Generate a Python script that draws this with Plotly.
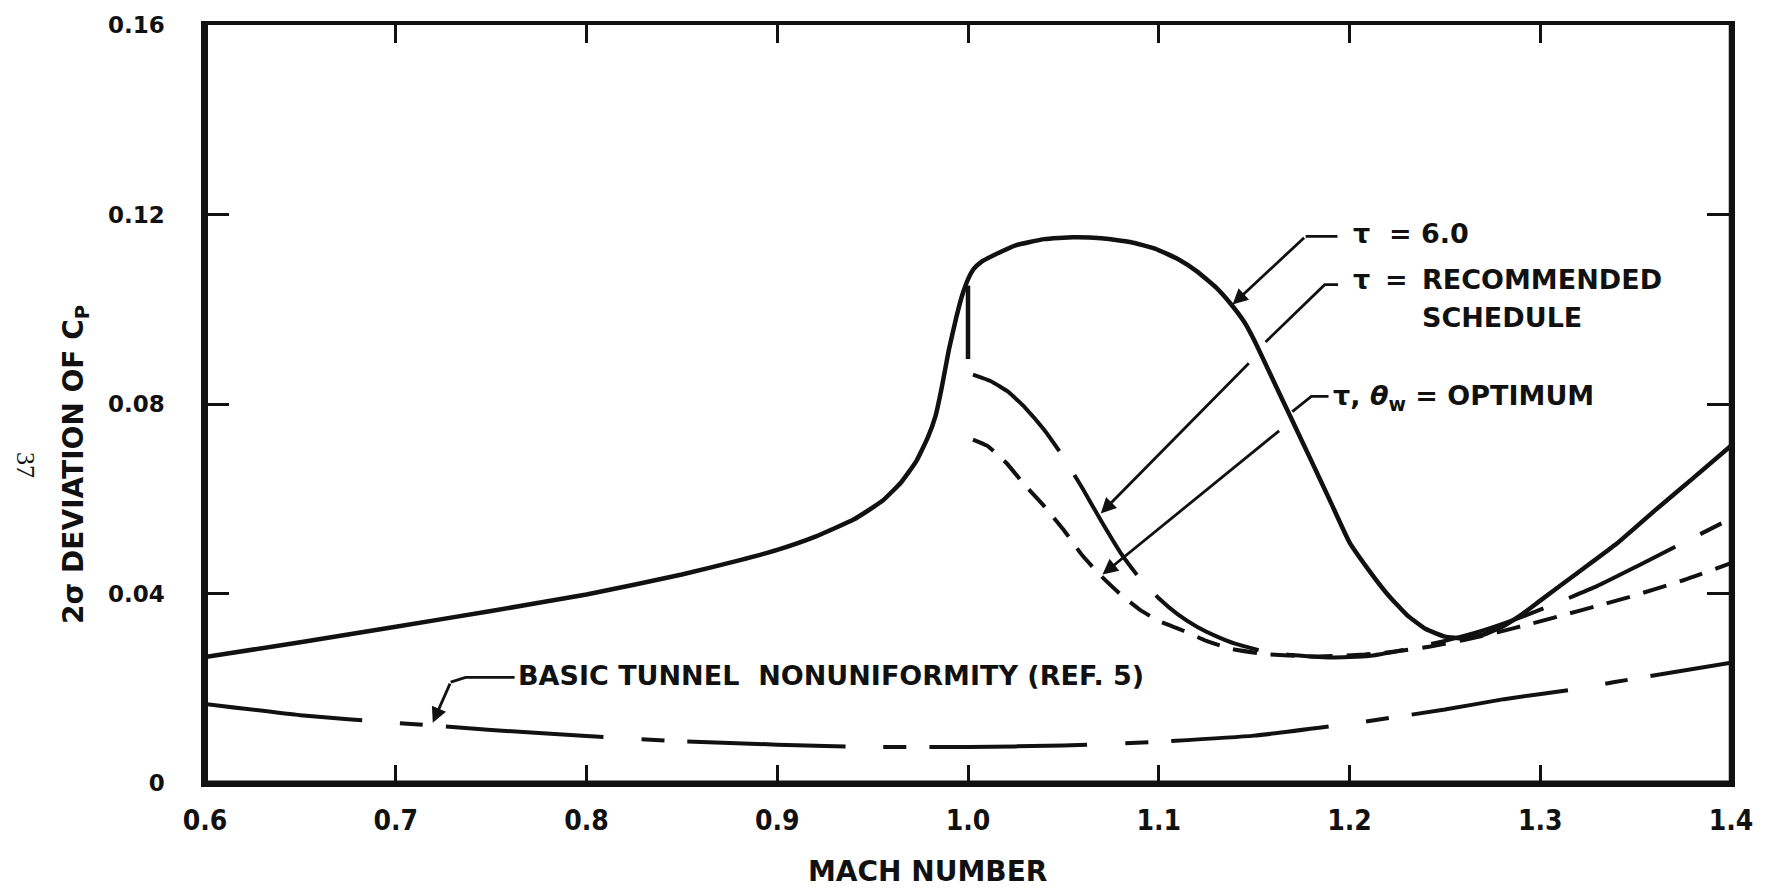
import plotly.graph_objects as go

# ---- data -------------------------------------------------------------
# tau = 6.0 (solid)
tau6_mach = [0.60, 0.65, 0.70, 0.75, 0.80, 0.85, 0.88, 0.90, 0.92, 0.94, 0.955, 0.965,
             0.973, 0.979, 0.983, 0.986, 0.990, 0.994, 0.997, 1.000, 1.003, 1.007, 1.014,
             1.025, 1.040, 1.055, 1.070, 1.085, 1.098, 1.110, 1.120, 1.130, 1.138, 1.145,
             1.150, 1.160, 1.170, 1.180, 1.190, 1.200, 1.210, 1.220, 1.230, 1.240, 1.250,
             1.260, 1.270, 1.280, 1.290, 1.300, 1.320, 1.340, 1.360, 1.380, 1.400]
tau6_cp = [0.0266, 0.0297, 0.0330, 0.0363, 0.0398, 0.0440, 0.0470, 0.0492, 0.0520, 0.0556,
           0.0595, 0.0635, 0.0680, 0.0730, 0.0775, 0.0830, 0.0915, 0.0985, 0.1030, 0.1063,
           0.1085, 0.1100, 0.1115, 0.1135, 0.1148, 0.1152, 0.1150, 0.1142, 0.1128, 0.1106,
           0.1080, 0.1046, 0.1010, 0.0972, 0.0935, 0.0850, 0.0765, 0.0680, 0.0594, 0.0508,
           0.0450, 0.0398, 0.0355, 0.0325, 0.0309, 0.0305, 0.0313, 0.0330, 0.0355, 0.0385,
           0.0445, 0.0505, 0.0575, 0.0643, 0.0712]

# drop of the tau = 6.0 curve at M = 1.0
drop_mach = [1.0, 1.0]
drop_cp = [0.1050, 0.0895]

# tau = recommended schedule (long dash)
rec_mach = [1.0026, 1.012, 1.021, 1.030, 1.040, 1.050, 1.060, 1.070, 1.080, 1.090, 1.100,
            1.110, 1.120, 1.130, 1.140, 1.155, 1.170, 1.190, 1.210, 1.230, 1.250, 1.270,
            1.290, 1.310, 1.330, 1.350, 1.370, 1.395]
rec_cp = [0.0862, 0.0848, 0.0826, 0.0792, 0.0745, 0.0688, 0.0622, 0.0552, 0.0486, 0.0432,
          0.0390, 0.0356, 0.0330, 0.0310, 0.0294, 0.0278, 0.0270, 0.0265, 0.0268, 0.0282,
          0.0300, 0.0322, 0.0350, 0.0382, 0.0416, 0.0456, 0.0497, 0.0548]

# tau, theta_w = optimum (short dash)
opt_mach = [1.0026, 1.010, 1.020, 1.030, 1.040, 1.050, 1.060, 1.070, 1.080, 1.090, 1.100,
            1.112, 1.125, 1.138, 1.156, 1.180, 1.208, 1.225, 1.2424, 1.260, 1.2775, 1.295,
            1.3126, 1.330, 1.347, 1.375, 1.400]
opt_cp = [0.0725, 0.0712, 0.0676, 0.0628, 0.0584, 0.0535, 0.0480, 0.0436, 0.0398, 0.0366,
          0.0342, 0.0323, 0.0300, 0.0283, 0.0272, 0.0267, 0.0271, 0.0278, 0.0288, 0.0302,
          0.0318, 0.0336, 0.0355, 0.0374, 0.0393, 0.0428, 0.0464]

# basic tunnel nonuniformity (ref. 5)
basic_mach = [0.60, 0.65, 0.70, 0.75, 0.80, 0.85, 0.90, 0.95, 1.00, 1.05, 1.10, 1.15, 1.20,
              1.25, 1.281, 1.318, 1.339, 1.40]
basic_cp = [0.0167, 0.0143, 0.0127, 0.0112, 0.0099, 0.0088, 0.0081, 0.0076, 0.0076, 0.0079,
            0.0087, 0.0100, 0.0125, 0.0155, 0.0177, 0.0198, 0.0213, 0.0254]

x_ticks = [0.6, 0.7, 0.8, 0.9, 1.0, 1.1, 1.2, 1.3, 1.4]
x_labels = ["0.6", "0.7", "0.8", "0.9", "1.0", "1.1", "1.2", "1.3", "1.4"]
y_ticks = [0, 0.04, 0.08, 0.12, 0.16]
y_labels = ["0", "0.04", "0.08", "0.12", "0.16"]

# ---- figure -----------------------------------------------------------
BOLD = "DejaVu Sans"
NARROW = "Liberation Sans Narrow, Arial Narrow, DejaVu Sans Condensed, sans-serif"
INK = "#111111"

fig = go.Figure()

def curve(x, y, width, dash):
    fig.add_trace(go.Scatter(x=x, y=y, mode="lines", showlegend=False, hoverinfo="skip",
                             line=dict(color=INK, width=width, dash=dash,
                                       shape="spline", smoothing=0.4)))

curve(basic_mach, basic_cp, 4, "158px,38px,23px,23px")
curve(rec_mach, rec_cp, 4, "118px,28px")
curve(opt_mach, opt_cp, 4, "24px,14px")
curve(tau6_mach, tau6_cp, 4.5, "solid")
curve(drop_mach, drop_cp, 4.5, "solid")

# ---- leader lines -----------------------------------------------------
def polyline(pts, width=2.8):
    path = "M " + " L ".join(f"{px},{py}" for px, py in pts)
    fig.add_shape(type="path", path=path, xref="x", yref="y",
                  line=dict(color=INK, width=width), layer="above")

def arrow(tail, head):
    fig.add_annotation(x=head[0], y=head[1], ax=tail[0], ay=tail[1],
                       xref="x", yref="y", axref="x", ayref="y", text="",
                       showarrow=True, arrowhead=2, arrowsize=1.1, arrowwidth=2.8,
                       arrowcolor=INK)

# tau = 6.0
polyline([(1.1937, 0.1154), (1.177, 0.1154)])
arrow((1.177, 0.1154), (1.1387, 0.1010))
# tau = recommended schedule
polyline([(1.194, 0.1052), (1.187, 0.1052), (1.156, 0.0931)])
arrow((1.148, 0.0889), (1.0696, 0.0569))
# tau, theta_w = optimum
polyline([(1.189, 0.0816), (1.1800, 0.0816), (1.1700, 0.0784)])
arrow((1.1639, 0.0746), (1.0705, 0.0440))
# basic tunnel nonuniformity
polyline([(0.7623, 0.0223), (0.7366, 0.0223), (0.7288, 0.0213)])
arrow((0.7288, 0.0213), (0.7194, 0.0127))

# ---- curve labels -----------------------------------------------------
def label(x, y, text, size=27):
    fig.add_annotation(x=x, y=y, xref="x", yref="y", text=text, showarrow=False,
                       xanchor="left", yanchor="middle",
                       font=dict(family=BOLD, size=size, color=INK, weight="bold"))

label(1.201, 0.1159, "τ\u00a0\u00a0=\u00a06.0")
label(1.201, 0.1062, "τ")
label(1.2176, 0.1062, "=")
label(1.237, 0.1062, "RECOMMENDED")
label(1.237, 0.0982, "SCHEDULE")
label(1.1905, 0.0814, "τ, <i>θ</i><sub>w</sub> = OPTIMUM")
label(0.7628, 0.0227, "BASIC TUNNEL\u00a0\u00a0NONUNIFORMITY (REF. 5)")

# ---- axis titles and page number --------------------------------------
fig.add_annotation(x=0.4736, y=-0.117, xref="paper", yref="paper", showarrow=False,
                   text="MACH NUMBER", xanchor="center", yanchor="middle",
                   font=dict(family=BOLD, size=28, color=INK, weight="bold"))
fig.add_annotation(x=-0.085, y=0.420, xref="paper", yref="paper", showarrow=False,
                   text="2σ DEVIATION OF C<sub>P</sub>", textangle=-90,
                   xanchor="center", yanchor="middle",
                   font=dict(family=BOLD, size=28, color=INK, weight="bold"))
fig.add_annotation(x=-0.1176, y=0.420, xref="paper", yref="paper", showarrow=False,
                   text="37", textangle=90, xanchor="center", yanchor="middle",
                   font=dict(family="Liberation Serif", size=26, color=INK))

# ---- frame (heavier on left and bottom) -------------------------------
fig.add_shape(type="line", xref="paper", yref="paper", x0=0, x1=0, y0=0, y1=1,
              line=dict(color=INK, width=6), layer="above")
fig.add_shape(type="line", xref="paper", yref="paper", x0=0, x1=1, y0=0, y1=0,
              line=dict(color=INK, width=5), layer="above")
fig.add_shape(type="line", xref="paper", yref="paper", x0=1, x1=1, y0=0, y1=1,
              line=dict(color=INK, width=4.5), layer="above")

fig.update_layout(
    width=1765, height=892,
    margin=dict(l=205, r=29, t=19, b=109),
    paper_bgcolor="white", plot_bgcolor="white",
    showlegend=False,
    xaxis=dict(range=[0.6, 1.4], tickvals=x_ticks, ticktext=x_labels,
               ticks="inside", ticklen=18, tickwidth=3, tickcolor=INK,
               showline=True, linewidth=3.5, linecolor=INK, mirror="ticks",
               showgrid=False, zeroline=False, ticklabelstandoff=10,
               tickfont=dict(family=NARROW, size=28, color=INK, weight="bold")),
    yaxis=dict(range=[0, 0.16], tickvals=y_ticks, ticktext=y_labels,
               ticks="inside", ticklen=24, tickwidth=3, tickcolor=INK,
               showline=True, linewidth=3.5, linecolor=INK, mirror="ticks",
               showgrid=False, zeroline=False, ticklabelstandoff=32,
               tickfont=dict(family=BOLD, size=23, color=INK, weight="bold")),
)

fig.write_html("out.html")
